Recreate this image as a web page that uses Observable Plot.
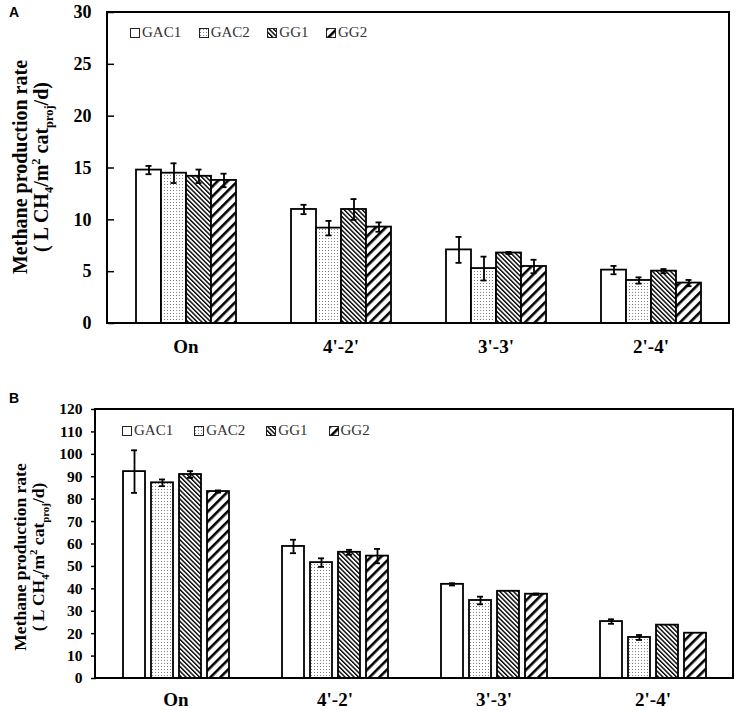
<!DOCTYPE html>
<html><head><meta charset="utf-8">
<script src="https://cdn.jsdelivr.net/npm/d3@7"></script>
<script src="https://cdn.jsdelivr.net/npm/@observablehq/plot@0.6"></script>
<style>
body{margin:0;background:#fff;font-family:"Liberation Serif","Times New Roman",serif;}
.panel{position:relative;width:737px;}
.plab{position:absolute;left:9px;font:bold 14px "Liberation Sans",Arial,sans-serif;}
.ytitle{position:absolute;transform:translate(-50%,-50%) rotate(-90deg);white-space:nowrap;text-align:center;font-weight:bold;color:#000;}
.ytitle sub,.ytitle sup{font-size:0.62em;line-height:0;}
.legend{position:absolute;display:flex;align-items:center;font-size:15px;color:#333;}
.legend .it{display:flex;align-items:center;}
.legend .sw{width:9px;height:9px;border:1px solid #222;margin-right:2px;box-sizing:border-box;}
</style></head><body>
<svg width="0" height="0" style="position:absolute">
<defs>
<pattern id="pDots" width="3" height="3" patternUnits="userSpaceOnUse"><rect width="3" height="3" fill="white"/><rect x="1" y="1" width="1" height="1" fill="#808080"/></pattern>
<pattern id="pFine" width="3.2" height="3.2" patternUnits="userSpaceOnUse" patternTransform="rotate(-45)"><rect width="3.2" height="3.2" fill="white"/><rect width="1.4" height="3.2" fill="black"/></pattern>
<pattern id="pBold" width="7" height="7" patternUnits="userSpaceOnUse" patternTransform="rotate(45)"><rect width="7" height="7" fill="white"/><rect width="2.6" height="7" fill="black"/></pattern>
</defs></svg>
<div id="root"></div>
<script>
const categories = ["On", "4'-2'", "3'-3'", "2'-4'"];
const series = ["GAC1", "GAC2", "GG1", "GG2"];
const seriesFills = ["white", "url(#pDots)", "url(#pFine)", "url(#pBold)"];

// Panel A
const yTicksA = [0, 5, 10, 15, 20, 25, 30];
const meanA_GAC1 = [14.8, 11.0, 7.1, 5.15];
const meanA_GAC2 = [14.5, 9.2, 5.3, 4.15];
const meanA_GG1  = [14.2, 11.0, 6.8, 5.05];
const meanA_GG2  = [13.8, 9.3, 5.5, 3.9];
const errA_GAC1 = [0.4, 0.45, 1.25, 0.4];
const errA_GAC2 = [0.95, 0.7, 1.15, 0.3];
const errA_GG1  = [0.65, 1.0, 0.1, 0.2];
const errA_GG2  = [0.65, 0.45, 0.65, 0.3];

// Panel B
const yTicksB = [0, 10, 20, 30, 40, 50, 60, 70, 80, 90, 100, 110, 120];
const meanB_GAC1 = [92.3, 58.9, 42.0, 25.4];
const meanB_GAC2 = [87.3, 51.7, 34.8, 18.3];
const meanB_GG1  = [91.0, 56.3, 38.9, 23.8];
const meanB_GG2  = [83.4, 54.6, 37.6, 20.2];
const errB_GAC1 = [9.5, 3.0, 0.5, 1.0];
const errB_GAC2 = [1.5, 1.9, 1.7, 1.1];
const errB_GG1  = [1.5, 1.1, 0, 0];
const errB_GG2  = [0.5, 3.2, 0.3, 0];

function buildRows(means, errs) {
  const rows = [];
  categories.forEach((c, i) => series.forEach((s, j) => rows.push({cat: c, series: s, mean: means[j][i], err: errs[j][i]})));
  return rows;
}
const rowsA = buildRows([meanA_GAC1, meanA_GAC2, meanA_GG1, meanA_GG2], [errA_GAC1, errA_GAC2, errA_GG1, errA_GG2]);
const rowsB = buildRows([meanB_GAC1, meanB_GAC2, meanB_GG1, meanB_GG2], [errB_GAC1, errB_GAC2, errB_GG1, errB_GG2]);

function makePanel(rows, o) {
  const errRows = rows.filter(d => d.err > 0);
  const chart = Plot.plot({
    width: 737, height: o.height,
    marginTop: o.mt, marginBottom: o.mb, marginLeft: o.ml, marginRight: o.mr,
    style: {fontFamily: "'Liberation Serif','Times New Roman',serif", background: "white", color: "black"},
    fx: {domain: categories, padding: 0, label: null},
    x: {domain: series, paddingInner: o.pi, paddingOuter: o.po, axis: null},
    y: {domain: [0, o.ymax], label: null},
    color: {domain: series, range: seriesFills},
    marks: [
      Plot.barY(rows, {fx: "cat", x: "series", y: "mean", fill: "series", stroke: "black", strokeWidth: o.bsw}),
      Plot.ruleX(errRows, {fx: "cat", x: "series", y1: d => d.mean - d.err, y2: d => d.mean + d.err, stroke: "black", strokeWidth: 1.8}),
      Plot.tickY(errRows, {fx: "cat", x: "series", y: d => d.mean + d.err, stroke: "black", strokeWidth: 1.8, insetLeft: o.cap, insetRight: o.cap}),
      Plot.tickY(errRows, {fx: "cat", x: "series", y: d => d.mean - d.err, stroke: "black", strokeWidth: 1.8, insetLeft: o.cap, insetRight: o.cap}),
      Plot.axisY({ticks: o.ticks, tickFormat: d => String(d), tickSize: o.tickSize, tickPadding: o.tickPadding, fontSize: o.yfs, fontWeight: "bold", strokeWidth: 1.5, label: null}),
      Plot.axisFx({anchor: "bottom", tickSize: 0, tickPadding: o.fxPad, fontSize: 19, fontWeight: "bold", label: null})
    ]
  });
  const fxs = chart.scale("fx"), ys = chart.scale("y");
  const x0 = fxs.range[0], x1 = fxs.range[1];
  const yb = ys.range[0], yt = ys.range[1];
  d3.select(chart).append("rect")
    .attr("x", x0).attr("y", yt).attr("width", x1 - x0).attr("height", yb - yt)
    .attr("fill", "none").attr("stroke", "black").attr("stroke-width", 2);
  return chart;
}

function legendHTML(left, top, gap) {
  const lg = document.createElement("div");
  lg.className = "legend";
  lg.style.left = left + "px"; lg.style.top = top + "px"; lg.style.gap = gap + "px";
  series.forEach((s, i) => {
    const it = document.createElement("div"); it.className = "it";
    const sw = document.createElementNS("http://www.w3.org/2000/svg", "svg");
    sw.setAttribute("width", 10); sw.setAttribute("height", 10); sw.style.marginRight = "2px";
    const r = document.createElementNS("http://www.w3.org/2000/svg", "rect");
    r.setAttribute("x", 0.5); r.setAttribute("y", 0.5); r.setAttribute("width", 9); r.setAttribute("height", 9);
    r.setAttribute("fill", seriesFills[i]); r.setAttribute("stroke", "#222"); r.setAttribute("stroke-width", 1);
    sw.appendChild(r); it.appendChild(sw);
    const t = document.createElement("span"); t.textContent = s; it.appendChild(t);
    lg.appendChild(it);
  });
  return lg;
}

function yTitle(left, top, fs, lh) {
  const d = document.createElement("div");
  d.className = "ytitle";
  d.style.left = left + "px"; d.style.top = top + "px"; d.style.fontSize = fs + "px"; d.style.lineHeight = lh + "px";
  d.innerHTML = "Methane production rate<br>( L CH<sub>4</sub>/m<sup>2</sup> cat<sub>proj</sub>/d)";
  return d;
}

const root = document.getElementById("root");

const pA = document.createElement("div"); pA.className = "panel"; pA.style.height = "380px";
pA.appendChild(makePanel(rowsA, {height: 380, mt: 12, mb: 57, ml: 107, mr: 8, pi: 0, po: 1.05, ymax: 30, ticks: yTicksA, tickSize: -6, tickPadding: 23, yfs: 18, fxPad: 16, cap: 9.5, bsw: 1.8}));
const labA = document.createElement("div"); labA.className = "plab"; labA.style.top = "4px"; labA.textContent = "A"; pA.appendChild(labA);
pA.appendChild(legendHTML(130, 24, 17.5));
pA.appendChild(yTitle(31, 167, 20, 21));
root.appendChild(pA);

const pB = document.createElement("div"); pB.className = "panel"; pB.style.height = "331px";
pB.appendChild(makePanel(rowsB, {height: 331, mt: 29, mb: 33, ml: 95, mr: 4, pi: 0.23, po: 0.875, ymax: 120, ticks: yTicksB, tickSize: 5, tickPadding: 9, yfs: 15.5, fxPad: 14, cap: 8, bsw: 1.8}));
const labB = document.createElement("div"); labB.className = "plab"; labB.style.top = "10px"; labB.textContent = "B"; pB.appendChild(labB);
pB.appendChild(legendHTML(122, 42, 21));
pB.appendChild(yTitle(29, 177, 17.5, 18));
root.appendChild(pB);
</script>
</body></html>
